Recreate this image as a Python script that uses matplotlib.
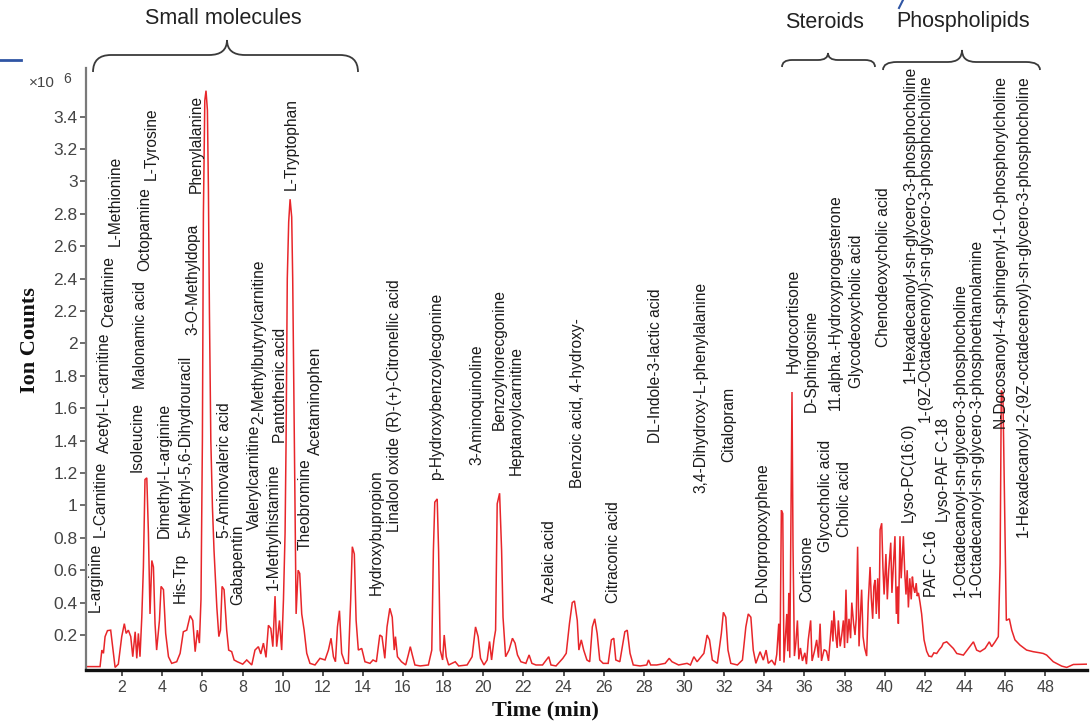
import matplotlib
matplotlib.use('Agg')
import matplotlib.pyplot as plt
from matplotlib.path import Path
from matplotlib.patches import PathPatch
from matplotlib.lines import Line2D

# ---------------- data ----------------
# chromatogram trace, 0.2 - 34.4 min
time_early = [0.2, 0.90, 0.99, 1.07, 1.15, 1.27, 1.43, 1.53, 1.65, 1.81, 1.98, 2.11, 2.20, 2.31, 2.43, 2.53,
              2.65, 2.73, 2.81, 2.89, 2.98, 3.06, 3.14, 3.23, 3.31, 3.39, 3.48, 3.56, 3.64, 3.72, 3.86, 3.94,
              4.06, 4.17, 4.31, 4.47, 4.72, 4.89, 5.05, 5.22, 5.39, 5.52, 5.64, 5.75, 5.85, 5.93, 6.00, 6.05,
              6.12, 6.18, 6.25, 6.30, 6.35, 6.42, 6.50, 6.58, 6.72, 6.82, 6.90, 6.98, 7.08, 7.21, 7.31, 7.46,
              7.58, 7.74, 8.01, 8.21, 8.46, 8.62, 8.79, 8.91, 9.04, 9.17, 9.29, 9.41, 9.51, 9.62, 9.70, 9.84,
              9.95, 10.04, 10.12, 10.17, 10.23, 10.30, 10.37, 10.45, 10.50, 10.53, 10.60, 10.67, 10.77, 10.85,
              10.95, 11.07, 11.20, 11.36, 11.61, 11.86, 12.11, 12.28, 12.41, 12.53, 12.63, 12.73, 12.83, 12.94,
              13.11, 13.27, 13.39, 13.47, 13.57, 13.66, 13.77, 13.94, 14.10, 14.35, 14.50, 14.67, 14.84, 14.95,
              15.09, 15.20, 15.34, 15.46, 15.56, 15.62, 15.72, 15.92, 16.13, 16.26, 16.36, 16.46, 16.59, 16.85,
              17.26, 17.43, 17.51, 17.58, 17.70, 17.77, 17.85, 17.97, 18.05, 18.15, 18.27, 18.60, 18.77, 19.19,
              19.44, 19.61, 19.74, 19.86, 20.03, 20.19, 20.31, 20.41, 20.53, 20.61, 20.69, 20.81, 20.91, 20.98,
              21.11, 21.28, 21.45, 21.58, 21.70, 21.87, 22.12, 22.28, 22.42, 22.62, 22.95, 23.26, 23.37, 23.62,
              23.96, 24.13, 24.29, 24.43, 24.54, 24.68, 24.76, 24.88, 25.00, 25.16, 25.30, 25.43, 25.55, 25.67,
              25.80, 25.97, 26.22, 26.38, 26.50, 26.60, 26.80, 27.05, 27.17, 27.31, 27.47, 27.81, 28.14, 28.23,
              28.34, 28.64, 29.06, 29.26, 29.40, 29.73, 30.15, 30.32, 30.49, 30.65, 30.99, 31.15, 31.27, 31.41,
              31.66, 31.86, 31.96, 32.08, 32.19, 32.33, 32.66, 32.91, 33.08, 33.20, 33.33, 33.45, 33.58, 33.79,
              33.95, 34.09, 34.20, 34.37]
counts_early = [0.005, 0.005, 0.107, 0.087, 0.19, 0.227, 0.23, 0.128, 0.0, 0.02, 0.19, 0.27, 0.21, 0.23, 0.19, 0.066,
                0.22, 0.056, 0.21, 0.066, 0.31, 0.62, 1.16, 1.17, 0.83, 0.33, 0.66, 0.62, 0.27, 0.107, 0.29, 0.50,
                0.48, 0.21, 0.066, 0.025, 0.035, 0.087, 0.22, 0.23, 0.32, 0.29, 0.097, 0.23, 0.15, 0.42, 1.40, 2.8,
                3.5, 3.56, 3.44, 2.95, 2.2, 1.40, 0.99, 0.72, 0.37, 0.19, 0.23, 0.50, 0.48, 0.23, 0.107, 0.097,
                0.046, 0.035, 0.02, 0.046, 0.015, 0.107, 0.128, 0.083, 0.15, 0.062, 0.26, 0.24, 0.128, 0.44, 0.128, 0.29,
                0.107, 0.42, 0.83, 1.4, 2.4, 2.75, 2.89, 2.78, 2.4, 2.02, 1.18, 0.33, 0.60, 0.58,
                0.33, 0.23, 0.087, 0.025, 0.015, 0.056, 0.046, 0.107, 0.18, 0.066, 0.035, 0.25, 0.35, 0.087,
                0.025, 0.025, 0.42, 0.745, 0.70, 0.29, 0.107, 0.117, 0.035, 0.025, 0.046, 0.035, 0.20, 0.19,
                0.056, 0.25, 0.365, 0.31, 0.107, 0.19, 0.066, 0.035, 0.015, 0.077, 0.128, 0.077, 0.015, 0.009,
                0.015, 0.107, 0.72, 1.02, 1.04, 0.72, 0.107, 0.046, 0.20, 0.066, 0.015, 0.035, 0.009, 0.015,
                0.066, 0.25, 0.19, 0.056, 0.015, 0.046, 0.16, 0.046, 0.17, 0.23, 1.01, 1.075, 0.72, 0.31,
                0.066, 0.107, 0.18, 0.15, 0.077, 0.035, 0.025, 0.077, 0.025, 0.015, 0.015, 0.066, 0.015, 0.009,
                0.056, 0.087, 0.27, 0.40, 0.41, 0.29, 0.107, 0.17, 0.107, 0.046, 0.035, 0.25, 0.30, 0.21,
                0.046, 0.025, 0.025, 0.17, 0.18, 0.046, 0.035, 0.22, 0.23, 0.087, 0.015, 0.009, 0.015, 0.046,
                0.015, 0.015, 0.025, 0.056, 0.035, 0.015, 0.025, 0.015, 0.066, 0.035, 0.087, 0.20, 0.17, 0.046,
                0.025, 0.21, 0.34, 0.31, 0.107, 0.025, 0.015, 0.046, 0.25, 0.33, 0.31, 0.107, 0.025, 0.097,
                0.045, 0.107, 0.025, 0.045]

# chromatogram trace, 34.5 - 50 min
time_late = [34.53, 34.62, 34.72, 34.78, 34.85, 34.92, 34.98, 35.06, 35.12, 35.17,
             35.22, 35.27, 35.32, 35.38, 35.43, 35.50, 35.57, 35.65, 35.72, 35.80,
             35.90, 36.02, 36.10, 36.19, 36.31, 36.38, 36.50, 36.61, 36.70, 36.78,
             36.85, 36.98, 37.10, 37.20, 37.30, 37.36, 37.42, 37.47, 37.55, 37.63,
             37.69, 37.78, 37.86, 37.94, 38.00, 38.07, 38.14, 38.22, 38.30, 38.36,
             38.45, 38.52, 38.58, 38.65, 38.72, 38.78, 38.85, 38.92, 39.00, 39.10,
             39.18, 39.27, 39.33, 39.40, 39.46, 39.52, 39.58, 39.65, 39.72, 39.77,
             39.85, 39.91, 39.97, 40.06, 40.13, 40.20, 40.30, 40.36, 40.42, 40.51,
             40.58, 40.64, 40.68, 40.76, 40.82, 40.93, 41.00, 41.06, 41.12, 41.18,
             41.25, 41.32, 41.38, 41.43, 41.50, 41.57, 41.62, 41.68, 41.76, 41.84,
             41.96, 42.09, 42.20, 42.34, 42.45, 42.59, 42.72, 42.84, 42.92, 43.09,
             43.25, 43.42, 43.59, 43.92, 44.17, 44.42, 44.58, 44.75, 45.00, 45.21,
             45.33, 45.50, 45.66, 45.75, 45.81, 45.89, 45.98, 46.06, 46.21, 46.33,
             46.49, 46.74, 47.07, 47.40, 47.74, 47.90, 48.07, 48.40, 48.82, 49.07,
             49.40, 50.06]
counts_late = [0.014, 0.08, 0.27, 0.04, 0.97, 0.95, 0.03, 0.20, 0.33, 0.10,
               0.46, 0.06, 0.77, 1.70, 0.75, 0.07, 0.15, 0.29, 0.05, 0.12,
               0.04, 0.09, 0.02, 0.17, 0.29, 0.04, 0.10, 0.17, 0.06, 0.27,
               0.04, 0.11, 0.10, 0.04, 0.20, 0.29, 0.16, 0.35, 0.21, 0.12,
               0.29, 0.13, 0.20, 0.29, 0.12, 0.48, 0.15, 0.30, 0.18, 0.40,
               0.27, 0.20, 0.30, 0.745, 0.13, 0.30, 0.48, 0.19, 0.12, 0.07,
               0.40, 0.62, 0.43, 0.30, 0.50, 0.54, 0.33, 0.55, 0.30, 0.85,
               0.89, 0.62, 0.45, 0.70, 0.42, 0.60, 0.77, 0.46, 0.60, 0.81,
               0.33, 0.50, 0.27, 0.81, 0.55, 0.81, 0.58, 0.45, 0.60, 0.37,
               0.55, 0.42, 0.56, 0.50, 0.46, 0.52, 0.44, 0.46, 0.40, 0.33,
               0.17, 0.10, 0.07, 0.066, 0.09, 0.086, 0.11, 0.128, 0.15, 0.158,
               0.138, 0.117, 0.086, 0.076, 0.117, 0.158, 0.107, 0.097, 0.117, 0.158,
               0.128, 0.158, 0.19, 0.64, 1.71, 1.69, 0.97, 0.29, 0.30, 0.23,
               0.17, 0.138, 0.107, 0.097, 0.09, 0.086, 0.076, 0.035, 0.008, 0.0,
               0.018, 0.02]

compound_names = [
    "L-arginine", "L-Carnitine", "Acetyl-L-carnitine", "Creatinine", "L-Methionine",
    "Isoleucine", "Malonamic acid", "Octopamine", "L-Tyrosine", "Dimethyl-L-arginine",
    "His-Trp", "5-Methyl-5,6-Dihydrouracil", "3-O-Methyldopa", "Phenylalanine",
    "5-Aminovaleric acid", "Gabapentin", "Valerylcarnitine", "2-Methylbutyrylcarnitine",
    "1-Methylhistamine", "Pantothenic acid", "L-Tryptophan", "Theobromine", "Acetaminophen",
    "Hydroxybupropion", "Linalool oxide", "(R)-(+)-Citronellic acid", "p-Hydroxybenzoylecgonine",
    "3-Aminoquinoline", "Benzoylnorecgonine", "Heptanoylcarnitine", "Azelaic acid",
    "Benzoic acid, 4-hydroxy-", "Citraconic acid", "DL-Indole-3-lactic acid",
    "3,4-Dihydroxy-L-phenylalanine", "Citalopram", "D-Norpropoxyphene",
    "Hydrocortisone", "Cortisone", "D-Sphingosine", "Glycocholic acid",
    "11.alpha.-Hydroxyprogesterone", "Cholic acid", "Glycodeoxycholic acid", "Chenodeoxycholic acid",
    "Lyso-PC(16:0)", "1-Hexadecanoyl-sn-glycero-3-phosphocholine",
    "1-(9Z-Octadecenoyl)-sn-glycero-3-phosphocholine", "PAF C-16", "Lyso-PAF C-18",
    "1-Octadecanoyl-sn-glycero-3-phosphocholine", "1-Octadecanoyl-sn-glycero-3-phosphoethanolamine",
    "N-Docosanoyl-4-sphingenyl-1-O-phosphorylcholine",
    "1-Hexadecanoyl-2-(9Z-octadecenoyl)-sn-glycero-3-phosphocholine",
]
compound_time = [0.65, 0.90, 1.10, 1.35, 1.65, 2.75, 2.94, 3.14, 3.44, 4.09,
                 4.89, 5.19, 5.54, 5.70, 7.08, 7.78, 8.58, 8.82, 9.52, 9.87, 10.42, 11.12, 11.61,
                 14.67, 15.59, 15.59, 17.68, 19.69, 20.78, 21.62, 23.29, 24.71, 26.47, 28.56,
                 30.82, 32.24, 33.92,
                 35.43, 36.11, 36.36, 37.03, 37.52, 38.02, 38.60, 39.92,
                 41.16, 41.26, 42.01, 42.34, 42.92, 43.75, 44.58, 45.74, 46.89]
compound_level = [0.342, 0.805, 1.323, 2.10, 2.60, 1.206, 1.72, 2.45, 3.01, 0.799,
                  0.40, 0.799, 2.05, 2.93, 0.799, 0.385, 0.848, 1.50, 0.478, 1.385, 2.947, 0.725, 1.311,
                  0.447, 0.838, 1.455, 1.157, 1.25, 1.465, 1.188, 0.396, 1.105, 0.396, 1.383,
                  1.075, 1.27, 0.406,
                  1.817, 0.406, 1.578, 0.714, 1.589, 0.807, 1.725, 1.98,
                  0.90, 1.754, 1.517, 0.436, 0.90, 0.436, 0.436, 1.476, 0.807]

group_names = ["Small molecules", "Steroids", "Phospholipids"]

y_ticks = [0.2, 0.4, 0.6, 0.8, 1.0, 1.2, 1.4, 1.6, 1.8, 2.0, 2.2, 2.4, 2.6, 2.8, 3.0, 3.2, 3.4]
x_ticks = list(range(2, 50, 2))

time_min = time_early + time_late
ion_counts = counts_early + counts_late

# ---------------- layout ----------------
W, H = 1091, 724
fig = plt.figure(figsize=(W / 100, H / 100), dpi=100)
fig.patch.set_facecolor('white')


def fx(px):
    return px / W


def fy(py):
    return 1 - py / H


ax = fig.add_axes([fx(86), fy(670), fx(1087) - fx(86), fy(68) - fy(670)])
ax.set_xlim(0.2, 50.08)
ax.set_ylim(-0.016, 3.70)

ax.plot(time_min, ion_counts, color='#e8262a', lw=1.1, solid_joinstyle='miter')

for s in ['top', 'right']:
    ax.spines[s].set_visible(False)
ax.spines['left'].set_color('#7a7a7a')
ax.spines['left'].set_linewidth(1.6)
ax.spines['bottom'].set_color('#111111')
ax.spines['bottom'].set_linewidth(2.4)

ax.set_yticks(y_ticks)
ax.set_yticklabels(['%g' % v for v in y_ticks])
ax.set_xticks(x_ticks)
ax.set_xticklabels([str(v) for v in x_ticks])
ax.tick_params(axis='y', direction='out', length=4, width=1.2, color='#555555',
               labelsize=12.5, labelcolor='#444444', pad=2)
ax.tick_params(axis='x', direction='out', length=4, width=1.2, color='#333333',
               labelsize=11.5, labelcolor='#444444', pad=3)
for lab in ax.get_xticklabels() + ax.get_yticklabels():
    lab.set_family('Liberation Sans')

for name, t, lv in zip(compound_names, compound_time, compound_level):
    ax.text(t, lv, name, rotation=90, ha='center', va='bottom', fontsize=11.2,
            family='Liberation Sans', color='#1a1a1a', clip_on=False)

# axis titles
fig.text(fx(30), fy(340), 'Ion Counts', rotation=90, ha='center', va='center',
         family='Liberation Serif', fontweight='bold', fontsize=16, color='#111111')
fig.text(fx(545), fy(710), 'Time (min)', ha='center', va='center',
         family='Liberation Serif', fontweight='bold', fontsize=16, color='#111111')
fig.text(fx(29), fy(83), '\u00d710', ha='left', va='center', family='Liberation Sans',
         fontsize=11, color='#444444')
fig.text(fx(63), fy(79), '6', ha='left', va='center', family='Liberation Sans',
         fontsize=10, color='#444444')


# braces
def brace(x1, x2, xm, ye, yh, yt, r):
    verts = [(x1, ye), (x1, yh), (x1 + r, yh),
             (xm - r, yh), (xm, yh), (xm, yt),
             (xm, yh), (xm + r, yh),
             (x2 - r, yh), (x2, yh), (x2, ye)]
    codes = [Path.MOVETO, Path.CURVE3, Path.CURVE3,
             Path.LINETO, Path.CURVE3, Path.CURVE3,
             Path.CURVE3, Path.CURVE3,
             Path.LINETO, Path.CURVE3, Path.CURVE3]
    v = [(fx(a), fy(b)) for a, b in verts]
    p = PathPatch(Path(v, codes), transform=fig.transFigure, fill=False,
                  edgecolor='#3a3a3a', lw=1.3)
    fig.patches.append(p)


brace(93, 358, 227, 72, 55, 40, 18)
brace(782, 875, 828, 67, 60, 53, 10)
brace(883, 1040, 962, 70, 62, 50, 14)

group_pos = [(223, 18), (825, 22), (963, 22)]
for g, (gx, gy) in zip(group_names, group_pos):
    fig.text(fx(gx), fy(gy), g, ha='center', va='center', family='Liberation Sans',
             fontsize=15.5, color='#222222')

# stray blue strokes in the reference image
fig.add_artist(Line2D([fx(0), fx(21)], [fy(60), fy(60)], color='#2f55a4', lw=2,
                      transform=fig.transFigure))
fig.add_artist(Line2D([fx(903), fx(899)], [fy(0), fy(8)], color='#2f55a4', lw=1.5,
                      transform=fig.transFigure))

fig.savefig('out.png', dpi=100)
